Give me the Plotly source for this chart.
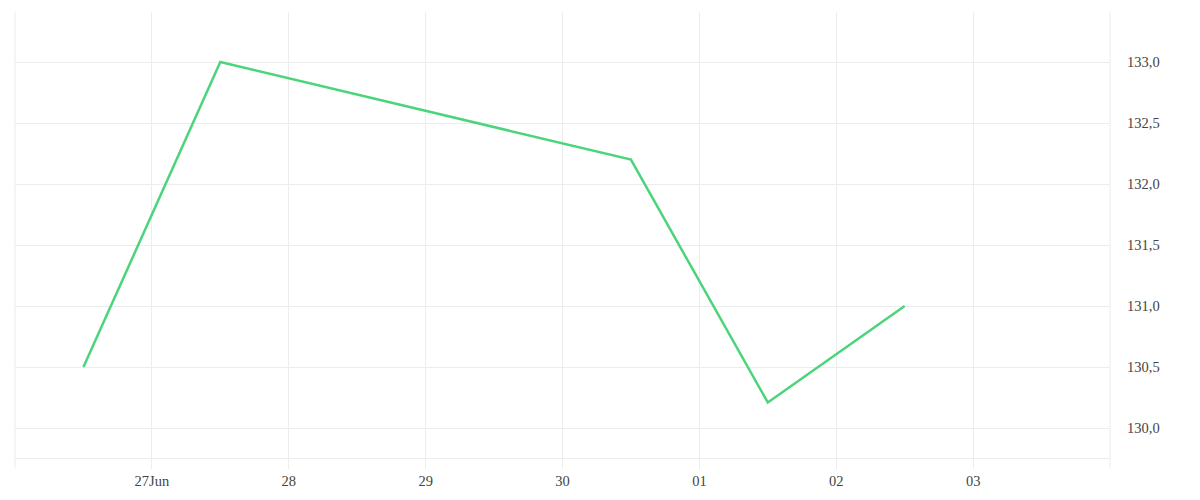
import plotly.graph_objects as go

dates = ["2014-06-26 12:00", "2014-06-27 12:00", "2014-06-30 12:00", "2014-07-01 12:00", "2014-07-02 12:00"]
values = [130.5, 133.0, 132.2, 130.21, 131.0]
tick_dates = ["2014-06-27", "2014-06-28", "2014-06-29", "2014-06-30", "2014-07-01", "2014-07-02", "2014-07-03"]
tick_labels = ["27Jun", "28", "29", "30", "01", "02", "03"]

grid = "#ececec"
fig = go.Figure()
fig.add_trace(go.Scatter(x=dates, y=values, mode="lines",
                         line=dict(color="#4CD47B", width=2.5)))

fig.update_layout(
    width=1200, height=500,
    margin=dict(l=7, r=98, t=4, b=50),
    paper_bgcolor="white", plot_bgcolor="white",
    separators=",.",
    showlegend=False,
    font=dict(family="Liberation Serif", size=14.5, color="#444444"),
    xaxis=dict(range=["2014-06-26", "2014-07-04"], tickvals=tick_dates, ticktext=tick_labels,
               showgrid=True, gridcolor=grid, gridwidth=1, zeroline=False,
               showline=True, linecolor=grid, linewidth=1,
               ticks="outside", ticklen=10, tickcolor=grid, tickwidth=1),
    yaxis=dict(side="right", range=[129.755, 133.41], dtick=0.5, tick0=130, tickformat=".1f",
               showgrid=True, gridcolor=grid, gridwidth=1, zeroline=False,
               showline=False, ticks="", ticklabelstandoff=16),
    shapes=[
        dict(type="line", xref="paper", yref="paper", x0=0, x1=0, y0=-0.0224, y1=1,
             line=dict(color=grid, width=1)),
        dict(type="line", xref="paper", yref="paper", x0=1, x1=1, y0=-0.0224, y1=1,
             line=dict(color=grid, width=1)),
    ],
)
fig.write_html("out.html")
